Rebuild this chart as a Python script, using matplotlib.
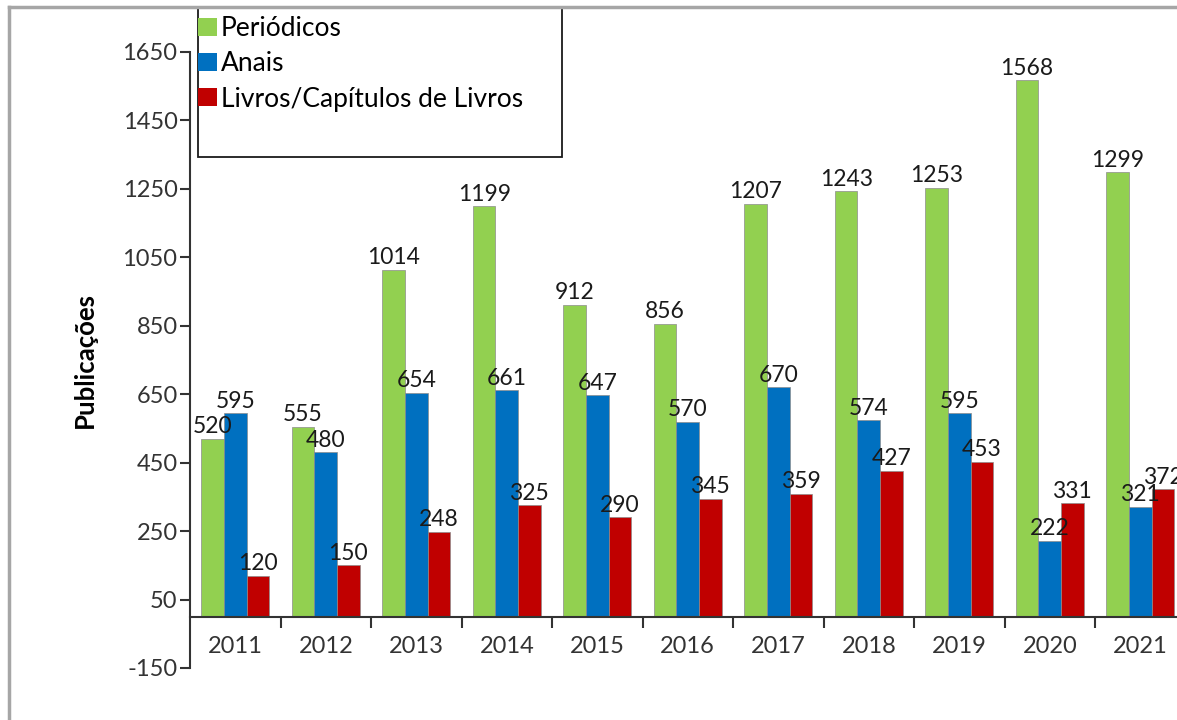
import numpy as np
import matplotlib.pyplot as plt
from matplotlib.patches import Patch, Rectangle
from matplotlib.lines import Line2D

plt.rcParams['font.family'] = ['Lato', 'DejaVu Sans']
plt.rcParams['axes.unicode_minus'] = False

# Data
years = ["2011", "2012", "2013", "2014", "2015", "2016", "2017", "2018", "2019", "2020", "2021"]
periodicos = [520, 555, 1014, 1199, 912, 856, 1207, 1243, 1253, 1568, 1299]
anais = [595, 480, 654, 661, 647, 570, 670, 574, 595, 222, 321]
livros = [120, 150, 248, 325, 290, 345, 359, 427, 453, 331, 372]
series_names = ["Periódicos", "Anais", "Livros/Capítulos de Livros"]
colors = ["#92D050", "#0070C0", "#C00000"]

W, H = 1177, 720
fig = plt.figure(figsize=(W / 100, H / 100), dpi=100)
# axes runs a bit past the right edge, like the original screenshot
ax = fig.add_axes([190 / W, (H - 668) / H, 995.5 / W, 616 / H])

x = np.arange(len(years))
bw = 0.25
for i, (vals, c) in enumerate(zip([periodicos, anais, livros], colors)):
    bars = ax.bar(x + (i - 1) * bw, vals, bw, color=c, edgecolor="#8c8c8c", linewidth=0.5)
    ax.bar_label(bars, padding=1, fontsize=16.5, color="#1a1a1a")

ax.set_xlim(-0.5, len(years) - 0.5)
ax.set_ylim(-150, 1650)
ax.set_yticks(range(-150, 1651, 200))
ax.set_xticks(x, years)
ax.set_xticks(np.arange(0.5, len(years), 1), minor=True)

ax.tick_params(axis="x", which="major", length=0, pad=14, labelsize=17, labelcolor="#333333")
ax.tick_params(axis="x", which="minor", length=8, width=1.5, color="#333333")
ax.tick_params(axis="y", length=7, width=1.5, pad=2, labelsize=17, labelcolor="#333333", color="#333333")

for s in ["top", "right"]:
    ax.spines[s].set_visible(False)
ax.spines["bottom"].set_position(("data", 0))
ax.spines["left"].set_linewidth(1.5)
ax.spines["bottom"].set_linewidth(1.5)
ax.spines["left"].set_color("#333333")
ax.spines["bottom"].set_color("#333333")

ax.set_ylabel("Publicações", fontsize=18.5, fontweight="bold")
ax.yaxis.set_label_coords(-0.0934, 0.5)

# outer frame of the screenshot
fig.add_artist(Line2D([9 / W, 9 / W], [0, 1 - 7 / H], transform=fig.transFigure, color="#a6a6a6", lw=2.5))
fig.add_artist(Line2D([9 / W, 1], [1 - 7 / H, 1 - 7 / H], transform=fig.transFigure, color="#a6a6a6", lw=2.5))

# legend box
fig.add_artist(Rectangle((198 / W, 1 - 157 / H), (562 - 198) / W, 150 / H,
                         transform=fig.transFigure, fill=False, ec="#1a1a1a", lw=1.3))
handles = [Patch(facecolor=c) for c in colors]
fig.legend(handles, series_names, loc="upper left", bbox_to_anchor=(198 / W, 1 - 16 / H),
           frameon=False, fontsize=19, handlelength=0.72, handleheight=0.68,
           handletextpad=0.15, labelspacing=0.39, borderpad=0, borderaxespad=0)

fig.savefig("out.png", dpi=100)
